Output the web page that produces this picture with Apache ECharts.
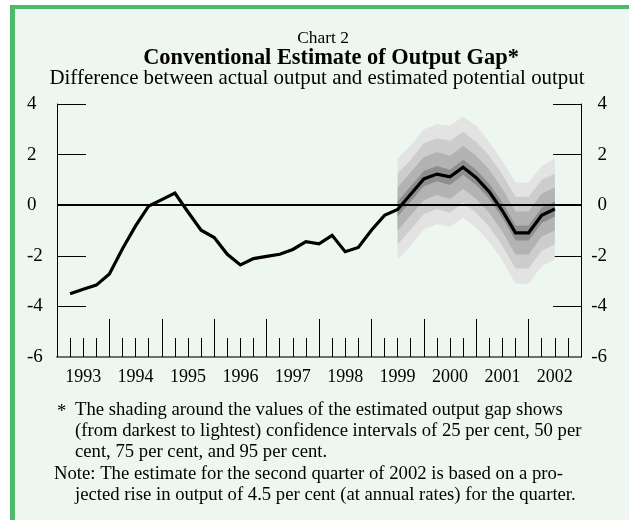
<!DOCTYPE html>
<html>
<head>
<meta charset="utf-8">
<script src="https://cdn.jsdelivr.net/npm/echarts@6/dist/echarts.min.js"></script>
<style>
  html, body { margin: 0; padding: 0; background: #ffffff; }
  #wrap { position: relative; width: 629px; height: 520px; overflow: hidden; background: #ffffff; }
  #frame { position: absolute; left: 10px; top: 5px; width: 619px; height: 515px; box-sizing: border-box;
           background: #EDF7F0; border-left: 5px solid #4DBA6B; border-top: 4px solid #4DBA6B; }
  #chart { position: absolute; left: 0; top: 0; width: 629px; height: 520px; }
</style>
</head>
<body>
<div id="wrap"><div id="frame"></div><div id="chart"></div></div>
<script>
// Quarterly positions: 1 = 1993Q1 ... 38 = 2002Q2
const quarterIndex = [1,2,3,4,5,6,7,8,9,10,11,12,13,14,15,16,17,18,19,20,21,22,23,24,25,26,27,28,29,30,31,32,33,34,35,36,37,38];
const outputGap = [-3.50,-3.32,-3.16,-2.72,-1.72,-0.82,-0.03,0.22,0.48,-0.27,-0.99,-1.28,-1.94,-2.36,-2.11,-2.02,-1.94,-1.75,-1.44,-1.53,-1.19,-1.84,-1.67,-0.99,-0.40,-0.17,0.43,1.04,1.23,1.12,1.50,1.09,0.53,-0.22,-1.09,-1.09,-0.40,-0.15];
const yearLabels = ['1993','1994','1995','1996','1997','1998','1999','2000','2001','2002'];
const yTicks = [-6,-4,-2,0,2,4];

// Confidence fan (1999Q2 .. 2002Q2)
const fanIndex = [26,27,28,29,30,31,32,33,34,35,36,37,38];
const up95 = [1.85,2.35,3.00,3.20,3.15,3.50,3.15,2.50,1.75,0.90,0.90,1.55,1.85];
const up75 = [1.25,1.80,2.45,2.65,2.55,2.90,2.50,1.95,1.20,0.33,0.33,1.00,1.25];
const up50 = [0.70,1.30,1.90,2.10,1.95,2.35,1.95,1.40,0.65,-0.25,-0.25,0.45,0.70];
const up25 = [0.15,0.75,1.35,1.55,1.40,1.80,1.40,0.85,0.10,-0.80,-0.80,-0.10,0.15];
const lo25 = [-0.45,0.15,0.75,0.95,0.80,1.20,0.80,0.25,-0.50,-1.40,-1.40,-0.70,-0.45];
const lo50 = [-1.00,-0.40,0.20,0.40,0.25,0.65,0.25,-0.30,-1.05,-1.95,-1.95,-1.25,-1.00];
const lo75 = [-1.55,-0.95,-0.35,-0.15,-0.30,0.10,-0.30,-0.85,-1.60,-2.50,-2.50,-1.80,-1.55];
const lo95 = [-2.15,-1.60,-0.95,-0.75,-0.85,-0.50,-0.90,-1.45,-2.20,-3.10,-3.10,-2.40,-2.15];

const c95 = '#E3E3E3', c75 = '#CDCDCD', c50 = '#B3B3B3', c25 = '#8E8E8E';
const FONT = "'Liberation Serif', 'DejaVu Serif', serif";

function fan(name, upper, lower, color, z) {
  return {
    name, type: 'custom', silent: true, z,
    data: fanIndex.map((k, i) => [k, upper[i], lower[i]]),
    encode: { x: 0, y: [1, 2] },
    renderItem: (params, api) => {
      if (params.dataIndex !== 0) return null;
      const top = fanIndex.map((k, i) => api.coord([k, upper[i]]));
      const bot = fanIndex.map((k, i) => api.coord([k, lower[i]])).reverse();
      return { type: 'polygon', shape: { points: top.concat(bot) }, style: { fill: color, stroke: null } };
    }
  };
}

const series = [
  fan('ci95', up95, lo95, c95, 1),
  fan('ci75', up75, lo75, c75, 2),
  fan('ci50', up50, lo50, c50, 3),
  fan('ci25', up25, lo25, c25, 4),
  { name: 'gap', type: 'line', data: quarterIndex.map((k, i) => [k, outputGap[i]]), symbol: 'none',
    lineStyle: { color: '#000', width: 3.2, join: 'miter' }, z: 6,
    markLine: { silent: true, symbol: 'none', label: { show: false },
      lineStyle: { color: '#000', width: 2, type: 'solid' }, data: [{ yAxis: 0 }] } }
];

const chart = echarts.init(document.getElementById('chart'), null, { renderer: 'canvas' });
const txt = (x, y, s, size, weight, align) => ({ type: 'text', x, y, style: { text: s, fill: '#000',
  font: (weight || 'normal') + ' ' + size + 'px ' + FONT, textAlign: align || 'center', textVerticalAlign: 'middle' } });

chart.setOption({
  backgroundColor: 'transparent',
  animation: false,
  grid: { left: 57, right: 48, top: 104, bottom: 163 },
  xAxis: [
    { type: 'value', min: 0, max: 40, interval: 1, position: 'bottom',
      axisLine: { show: true, onZero: false, lineStyle: { color: '#6E6E6E', width: 2 } },
      axisTick: { show: true, inside: true, length: 19, lineStyle: { color: '#000', width: 1 } },
      axisLabel: { margin: 11, color: '#000', fontSize: 18, fontFamily: FONT,
        formatter: v => (v % 4 === 2 ? yearLabels[(v - 2) / 4] : '') },
      splitLine: { show: false } },
    { type: 'value', min: 0, max: 40, interval: 4, position: 'bottom',
      axisLine: { show: false, onZero: false },
      axisTick: { show: true, inside: true, length: 38, lineStyle: { color: '#000', width: 1 } },
      axisLabel: { show: false }, splitLine: { show: false } }
  ],
  yAxis: [
    { type: 'value', min: -6, max: 4, interval: 2, position: 'left',
      axisLine: { show: true, onZero: false, lineStyle: { color: '#000', width: 1 } },
      axisTick: { show: true, inside: true, length: 29, customValues: [-4, -2, 2, 4], lineStyle: { color: '#000', width: 1 } },
      axisLabel: { margin: 30, align: 'left', color: '#000', fontSize: 19, fontFamily: FONT, customValues: yTicks },
      splitLine: { show: false } },
    { type: 'value', min: -6, max: 4, interval: 2, position: 'right',
      axisLine: { show: true, onZero: false, lineStyle: { color: '#000', width: 1 } },
      axisTick: { show: true, inside: true, length: 28, customValues: [-4, -2, 2, 4], lineStyle: { color: '#000', width: 1 } },
      axisLabel: { margin: 26, align: 'right', color: '#000', fontSize: 19, fontFamily: FONT, customValues: yTicks },
      splitLine: { show: false } }
  ],
  series,
  graphic: [
    txt(323, 38, 'Chart 2', 17.4),
    txt(331, 58, 'Conventional Estimate of Output Gap*', 22.4, 'bold'),
    txt(317, 79, 'Difference between actual output and estimated potential output', 20.9),
    txt(57, 412, '*', 18.7, 'normal', 'left'),
    txt(75, 410, 'The shading around the values of the estimated output gap shows', 18.7, 'normal', 'left'),
    txt(75, 431, '(from darkest to lightest) confidence intervals of 25 per cent, 50 per', 18.7, 'normal', 'left'),
    txt(75, 452, 'cent, 75 per cent, and 95 per cent.', 18.7, 'normal', 'left'),
    txt(54, 474, 'Note: The estimate for the second quarter of 2002 is based on a pro-', 18.7, 'normal', 'left'),
    txt(75, 495, 'jected rise in output of 4.5 per cent (at annual rates) for the quarter.', 18.7, 'normal', 'left')
  ]
});
</script>
</body>
</html>
